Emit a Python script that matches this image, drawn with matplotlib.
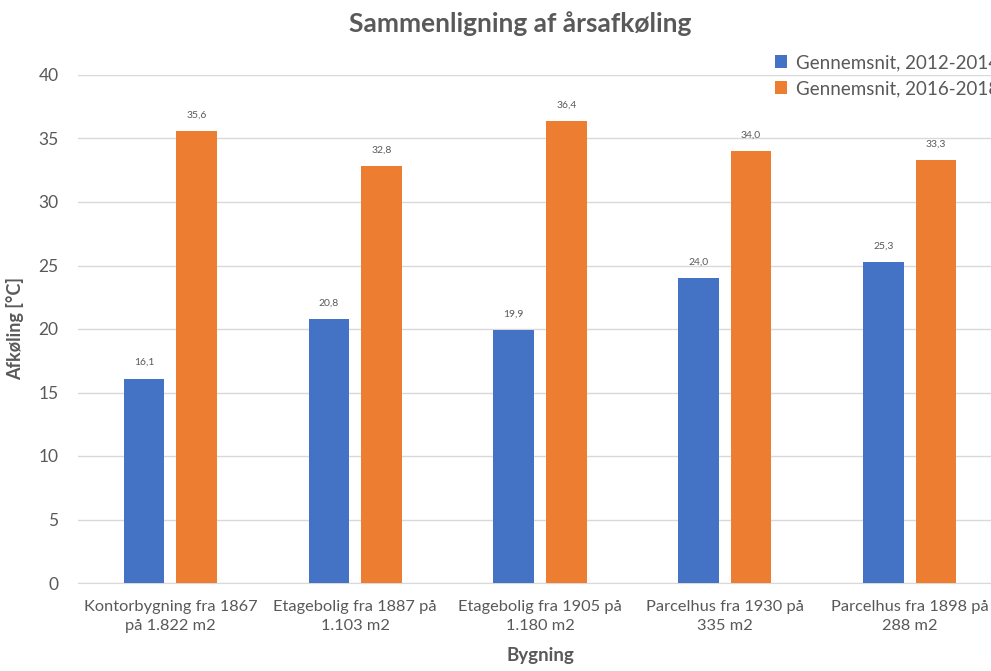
import matplotlib
matplotlib.use("Agg")
import matplotlib.pyplot as plt
import numpy as np

categories = ["Kontorbygning fra 1867\npå 1.822 m2", "Etagebolig fra 1887 på\n1.103 m2",
              "Etagebolig fra 1905 på\n1.180 m2", "Parcelhus fra 1930 på\n335 m2",
              "Parcelhus fra 1898 på\n288 m2"]
series_names = ["Gennemsnit, 2012-2014", "Gennemsnit, 2016-2018"]
avg_2012_2014 = [16.1, 20.8, 19.9, 24.0, 25.3]
avg_2016_2018 = [35.6, 32.8, 36.4, 34.0, 33.3]
colors = ["#4472C4", "#ED7D31"]

plt.rcParams['font.family'] = ['Lato', 'DejaVu Sans']
txt = "#595959"

fig = plt.figure(figsize=(9.91, 6.71), dpi=100)
ax = fig.add_axes([78/991, 1-583/671, (1002-78)/991, (583-75)/671])

x = np.arange(len(categories))
w = 0.22
off = 0.142
for vals, c, o, name in zip([avg_2012_2014, avg_2016_2018], colors, [-off, off], series_names):
    bars = ax.bar(x + o, vals, w, color=c, label=name, zorder=3)
    for b, v in zip(bars, vals):
        ax.text(b.get_x() + b.get_width()/2, v + 0.9, f"{v:.1f}".replace(".", ","),
                ha="center", va="bottom", fontsize=7.5, color=txt)

ax.set_xlim(-0.5, len(categories) - 0.5)
ax.set_ylim(0, 40)
ax.set_yticks(range(0, 41, 5))
ax.set_xticks(x)
ax.set_xticklabels(categories, fontsize=11.8, color=txt, linespacing=1.5)
ax.tick_params(axis="y", labelsize=12.5, colors=txt, length=0, pad=14)
ax.tick_params(axis="x", length=0, pad=12)
ax.grid(axis="y", color="#d9d9d9", linewidth=1, zorder=0)
for s in ["top", "right", "left"]:
    ax.spines[s].set_visible(False)
ax.spines["bottom"].set_color("#d9d9d9")
ax.set_ylabel("Afkøling [°C]", fontsize=13, fontweight="bold", color=txt, labelpad=10)
ax.set_xlabel("Bygning", fontsize=13.5, fontweight="bold", color=txt, labelpad=10)

fig.text(0.525, 0.965, "Sammenligning af årsafkøling", ha="center", va="center",
         fontsize=19, fontweight="bold", color=txt)

ax.legend(loc="upper left", bbox_to_anchor=(775/991, 1-54/671), bbox_transform=fig.transFigure,
          frameon=False, fontsize=13.5, labelcolor=txt, handlelength=0.65, handleheight=0.7,
          handletextpad=0.45, labelspacing=0.5, borderaxespad=0, borderpad=0)

fig.savefig("out.png", dpi=100)
